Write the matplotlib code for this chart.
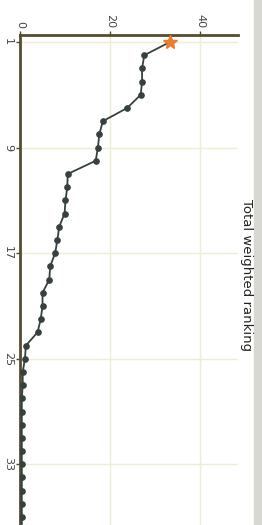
import numpy as np
import matplotlib
matplotlib.use('Agg')
import matplotlib.pyplot as plt

# rank position and total weighted score
ranks = list(range(1, 39))
scores = [33.3, 27.6, 27.1, 27.1, 26.8, 23.8, 18.4, 17.6, 17.3, 16.8,
          10.6, 10.5, 10.1, 9.9, 8.7, 8.3, 7.8, 6.7, 6.5, 5.0,
          5.0, 4.6, 3.9, 1.3, 1.1, 0.6, 0.6, 0.4, 0.4, 0.4,
          0.4, 0.4, 0.4, 0.4, 0.4, 0.4, 0.4, 0.4]
value_ticks = [0, 20, 40]
rank_ticks = [1, 9, 17, 25, 33]
title = 'Total weighted ranking'

fig = plt.figure(figsize=(2.62, 5.25), dpi=100)
fig.patch.set_facecolor('white')
# grey strip on the right edge
fig.patches.append(plt.Rectangle((254/262, 0), 8/262, 1, transform=fig.transFigure,
                                 color='#d8d8d2', zorder=0))

ax = fig.add_axes([20/262, 0.0, 218/262, 1 - 35/525])
ax.plot(scores, ranks, '-o', color='#36413f', lw=1.3, ms=3.8, zorder=3)
ax.plot(scores[:1], ranks[:1], '*', color='#ef7a2a', ms=10, zorder=4)

ax.set_xlim(0, 48.4)
ax.set_ylim(37.6, 0.47)
ax.xaxis.tick_top()
ax.set_xticks(value_ticks)
ax.set_yticks(rank_ticks)
ax.set_xticklabels([str(v) for v in value_ticks], rotation=-90, fontsize=8, color='#444444')
ax.set_yticklabels([str(r) for r in rank_ticks], rotation=-90, fontsize=8, color='#444444',
                   va='center')
ax.tick_params(axis='both', length=3, width=1, color='#4a4630', pad=2)
ax.grid(True, color='#eeedd2', lw=1)
ax.set_axisbelow(True)
for s in ['right', 'bottom']:
    ax.spines[s].set_visible(False)
for s in ['top', 'left']:
    ax.spines[s].set_color('#554d30')
    ax.spines[s].set_linewidth(2)

fig.text(247/262, 1 - 275/525, title, rotation=-90, ha='center', va='center',
         fontsize=9.5, color='#222222')

fig.savefig('out.png', dpi=100)
